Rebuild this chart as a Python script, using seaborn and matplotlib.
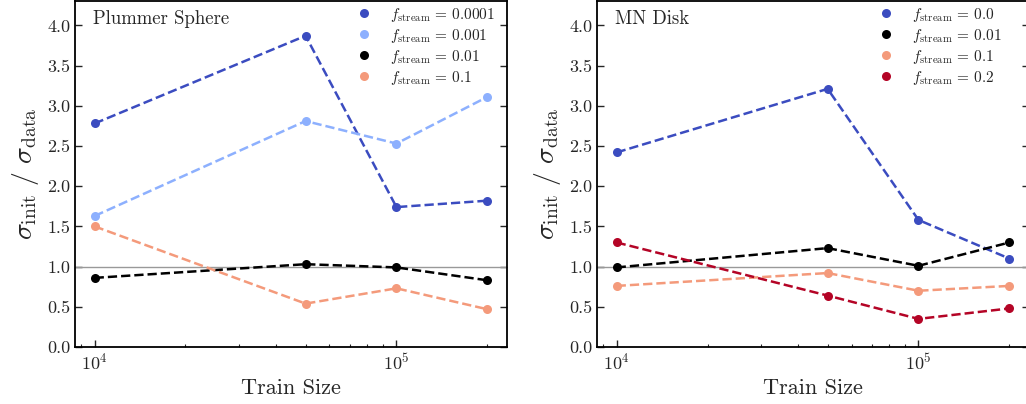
import matplotlib
matplotlib.use("Agg")
import matplotlib.pyplot as plt
import seaborn as sns
import pandas as pd
from matplotlib.lines import Line2D

sns.set_theme(style="ticks")
plt.rcParams.update({
    "font.family": "serif",
    "font.serif": ["cmr10", "DejaVu Serif"],
    "mathtext.fontset": "cm",
    "axes.formatter.use_mathtext": True,
    "axes.unicode_minus": False,
})

train_size = [1e4, 5e4, 1e5, 2e5]

plummer_labels = ["0.0001", "0.001", "0.01", "0.1"]
plummer_0001 = [2.78, 3.87, 1.74, 1.82]
plummer_001 = [1.63, 2.81, 2.53, 3.11]
plummer_01 = [0.86, 1.03, 0.99, 0.83]
plummer_1 = [1.50, 0.54, 0.73, 0.47]

mn_labels = ["0.0", "0.01", "0.1", "0.2"]
mn_0 = [2.42, 3.21, 1.58, 1.10]
mn_01 = [0.99, 1.23, 1.01, 1.30]
mn_1 = [0.76, 0.92, 0.70, 0.76]
mn_2 = [1.30, 0.64, 0.35, 0.48]

plummer_colors = ["#3b4cc0", "#8db0fe", "#000000", "#f49a7b"]
mn_colors = ["#3b4cc0", "#000000", "#f49a7b", "#b40426"]

panels = [
    ("Plummer Sphere", plummer_labels, [plummer_0001, plummer_001, plummer_01, plummer_1], plummer_colors),
    ("MN Disk", mn_labels, [mn_0, mn_01, mn_1, mn_2], mn_colors),
]

fig = plt.figure(figsize=(10.26, 4.04), dpi=100)
positions = [[0.0731, 0.141, 0.421, 0.856], [0.5819, 0.141, 0.421, 0.856]]

for pos, (title, labels, series, colors) in zip(positions, panels):
    ax = fig.add_axes(pos)
    ax.axhline(1.0, color="#999999", lw=1.0, zorder=1)
    handles = []
    for lab, vals, col in zip(labels, series, colors):
        df = pd.DataFrame({"x": train_size, "y": vals})
        sns.lineplot(data=df, x="x", y="y", ax=ax, color=col, marker="o",
                     linestyle="--", lw=1.8, markersize=6.5, markeredgewidth=0,
                     zorder=3)
        handles.append(Line2D([], [], linestyle="none", marker="o", color=col,
                              markersize=6.5, markeredgewidth=0,
                              label=r"$f_{\rm stream}\,=\," + lab + "$"))
    ax.set_xscale("log")
    ax.set_ylim(0, 4.3)
    ax.set_yticks([0.0, 0.5, 1.0, 1.5, 2.0, 2.5, 3.0, 3.5, 4.0])
    ax.set_yticklabels(["0.0", "0.5", "1.0", "1.5", "2.0", "2.5", "3.0", "3.5", "4.0"])
    ax.set_xlabel("Train Size", fontsize=16)
    ax.set_ylabel(r"$\sigma_{\rm init}\ /\ \sigma_{\rm data}$", fontsize=20)
    ax.tick_params(which="both", direction="in", top=False, right=True, labelsize=13)
    ax.tick_params(which="major", length=5, width=1)
    ax.tick_params(which="minor", length=2.5, width=0.8)
    for s in ax.spines.values():
        s.set_linewidth(1.3)
        s.set_color("black")
    ax.text(0.042, 0.975, title, transform=ax.transAxes, fontsize=13.5,
            ha="left", va="top")
    ax.legend(handles=handles, loc="upper left", frameon=False, fontsize=11,
              handletextpad=0.7, labelspacing=0.2, borderaxespad=0.0,
              bbox_to_anchor=(0.62, 1.005))

fig.savefig("out.png", dpi=100)
